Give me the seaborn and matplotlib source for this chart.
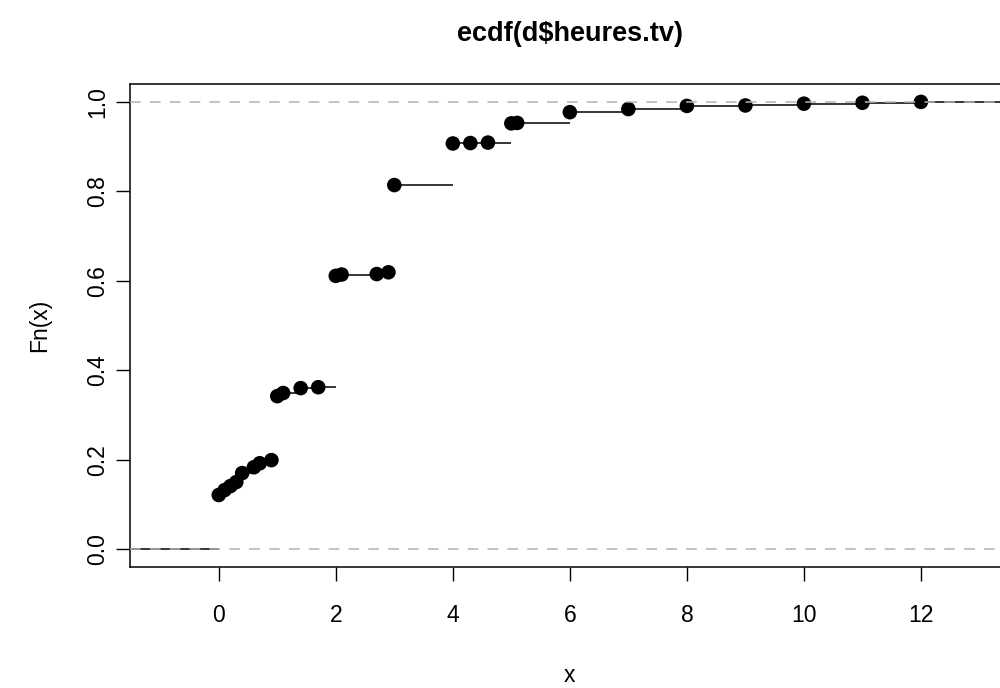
import seaborn as sns
import matplotlib.pyplot as plt
import pandas as pd
import numpy as np

# ecdf knots (hours of TV) and cumulative proportions
heures = [0, 0.1, 0.2, 0.3, 0.4, 0.6, 0.7, 0.9,
          1.0, 1.1, 1.4, 1.7,
          2.0, 2.1, 2.7, 2.9,
          3.0,
          4.0, 4.3, 4.6,
          5.0, 5.1,
          6, 7, 8, 9, 10, 11, 12]
fn = [0.121, 0.132, 0.141, 0.150, 0.170, 0.183, 0.192, 0.199,
      0.342, 0.349, 0.360, 0.362,
      0.611, 0.614, 0.615, 0.619,
      0.814,
      0.907, 0.908, 0.909,
      0.952, 0.953,
      0.977, 0.984, 0.991, 0.992, 0.996, 0.998, 1.0]
xticks = [0, 2, 4, 6, 8, 10, 12]
yticks = [0.0, 0.2, 0.4, 0.6, 0.8, 1.0]

df = pd.DataFrame({'x': heures, 'Fn': fn})

sns.set_theme(style='white')
plt.rcParams['font.family'] = ['Liberation Sans', 'DejaVu Sans']
plt.rcParams['text.color'] = 'black'
plt.rcParams['axes.labelcolor'] = 'black'
plt.rcParams['xtick.color'] = 'black'
plt.rcParams['ytick.color'] = 'black'

fig = plt.figure(figsize=(10, 6.88), dpi=100)
ax = fig.add_axes([0.13, 1 - 567 / 688, 0.8797, (567 - 84) / 688])

xlim = (-1.517, 13.517)
ax.set_xlim(*xlim)
ax.set_ylim(-0.04, 1.04)

# horizontal steps (no verticals), like plot.ecdf
x_next = list(df['x'][1:]) + [xlim[1]]
ax.hlines(df['Fn'], df['x'], x_next, color='black', lw=1.1, zorder=2)
ax.hlines(0, xlim[0], df['x'].iloc[0], color='black', lw=1.1, zorder=2)

sns.scatterplot(data=df, x='x', y='Fn', ax=ax, color='black', s=110,
                edgecolor='none', zorder=3, legend=False)

ax.axhline(0, color='#b3b3b3', lw=1.1, ls=(0, (7, 6)), zorder=4)
ax.axhline(1, color='#b3b3b3', lw=1.1, ls=(0, (7, 6)), zorder=4)

ax.set_xticks(xticks)
ax.set_xticklabels([str(t) for t in xticks])
ax.set_yticks(yticks)
ax.set_yticklabels(['%.1f' % t for t in yticks], rotation=90, va='center')
ax.tick_params(axis='both', direction='out', length=10, width=1.0,
               color='black', labelcolor='black', labelsize=16.5,
               bottom=True, left=True)
ax.tick_params(axis='x', pad=17)
ax.tick_params(axis='y', pad=5)

for s in ax.spines.values():
    s.set_color('black')
    s.set_linewidth(1.1)

ax.set_xlabel('x', fontsize=16.5, labelpad=26)
ax.set_ylabel('Fn(x)', fontsize=16.5, labelpad=25)
ax.set_title('ecdf(d$heures.tv)', fontsize=19.5, fontweight='bold', pad=31,
             color='black')

fig.savefig('out.png', dpi=100)
